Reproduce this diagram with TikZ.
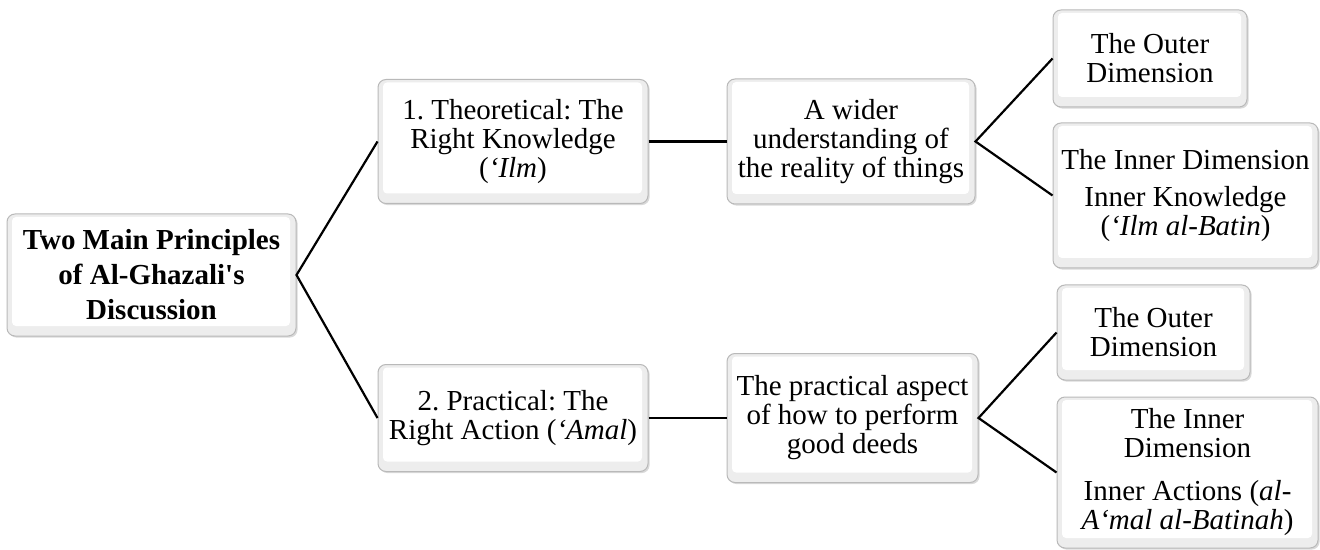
\documentclass[tikz,border=0pt]{standalone}
\usepackage{fontspec}
\setmainfont{Liberation Serif}
\usepackage{xcolor}
\usepackage{tikz}
\usetikzlibrary{shadows}
\frenchspacing

\begin{document}
\begin{tikzpicture}[x=0.5pt, y=-0.5pt,
    box/.style={rounded corners=4pt, draw=gray!55, line width=0.5pt, fill=gray!14,
      align=center, inner sep=0pt, font=\fontsize{14.5}{14.5}\selectfont,
      drop shadow={shadow xshift=0.8pt, shadow yshift=-0.8pt, opacity=0.3},
      path picture={\fill[white, rounded corners=2pt]
        ([shift={(2.5pt,-1.5pt)}]path picture bounding box.north west) rectangle
        ([shift={(-3pt,5pt)}]path picture bounding box.south east);}},
    link/.style={black, line width=1.1pt}]
  \useasboundingbox (0,0) rectangle (1320,550);
  % root
  \node[box, minimum width=144.5pt, minimum height=61pt, font=\fontsize{14.5}{17.5}\selectfont\bfseries]
    (root) at (151.5,275) {Two Main Principles\\ of Al-Ghazali\textquotesingle s\\ Discussion};
  % second column
  \node[box, minimum width=135pt, minimum height=62pt] (theo) at (513,141.5)
    {1. Theoretical: The\\ Right Knowledge\\ (\textit{‘Ilm})};
  \node[box, minimum width=135pt, minimum height=53.5pt] (prac) at (513,418)
    {2. Practical: The\\ Right Action (\textit{‘Amal})};
  % third column
  \node[box, minimum width=124pt, minimum height=62.5pt] (wider) at (851,141.5)
    {A wider\\ understanding of\\ the reality of things};
  \node[box, minimum width=125.5pt, minimum height=64.5pt] (aspect) at (852.5,418)
    {The practical aspect\\ of how to perform\\ good deeds};
  % fourth column
  \node[box, minimum width=97pt, minimum height=48.5pt] (outerA) at (1150,58.5)
    {The Outer\\ Dimension};
  \node[box, minimum width=132.5pt, minimum height=72.5pt] (innerA) at (1185.5,195.5)
    {The Inner Dimension\\[4pt] Inner Knowledge\\ (\textit{‘Ilm al-Batin})};
  \node[box, minimum width=96.5pt, minimum height=47.5pt] (outerB) at (1153.5,332.5)
    {The Outer\\ Dimension};
  \node[box, minimum width=130.5pt, minimum height=75.5pt] (innerB) at (1187.5,472.5)
    {The Inner\\ Dimension\\[7pt] Inner Actions (\textit{al-}\\ \textit{A‘mal al-Batinah})};
  % connectors
  \draw[link] (theo.west) -- (root.east) -- (prac.west);
  \draw[link] (theo.east) -- (wider.west);
  \draw[link] (prac.east) -- (aspect.west);
  \draw[link] (outerA.west) -- (wider.east) -- (innerA.west);
  \draw[link] (outerB.west) -- (aspect.east) -- (innerB.west);
\end{tikzpicture}
\end{document}
